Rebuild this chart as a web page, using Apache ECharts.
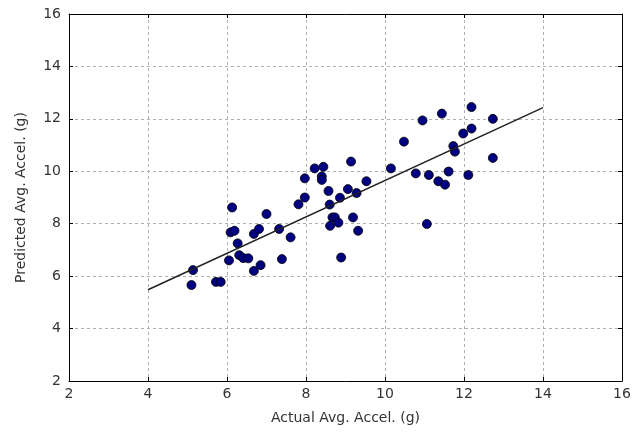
<!DOCTYPE html>
<html>
<head>
<meta charset="utf-8">
<script src="https://cdn.jsdelivr.net/npm/echarts@6/dist/echarts.min.js"></script>
<style>html,body{margin:0;padding:0;background:#fff}#c{width:641px;height:432px}</style>
</head>
<body>
<div id="c"></div>
<script>
const actual = [5.10,5.14,5.72,5.84,6.05,6.13,6.09,6.19,6.27,6.31,6.41,6.54,6.68,6.85,6.68,6.81,7.00,7.32,7.39,7.61,7.81,7.97,7.97,8.22,8.44,8.40,8.40,8.57,8.60,8.86,9.06,9.28,9.14,9.53,8.67,8.73,8.61,8.82,9.19,9.32,8.89,10.15,10.48,10.78,10.95,11.06,11.11,11.35,11.52,11.44,11.61,11.73,11.77,11.98,12.19,12.19,12.11,12.73,12.73];
const predicted = [5.66,6.23,5.78,5.78,6.60,8.62,7.67,7.73,7.25,6.80,6.69,6.68,6.20,6.42,7.61,7.80,8.37,7.80,6.65,7.48,8.74,9.00,9.73,10.11,10.17,9.80,9.67,9.25,8.73,8.99,9.32,9.17,10.37,9.62,8.24,8.24,7.92,8.04,8.24,7.73,6.71,10.11,11.13,9.92,11.94,7.99,9.86,9.62,9.49,12.20,9.99,10.96,10.75,11.44,11.63,12.45,9.86,12.00,10.51];
const fitX = [4, 14];
const fitY = [5.48, 12.43];
const xTitle = 'Actual Avg. Accel. (g)';
const yTitle = 'Predicted Avg. Accel. (g)';

const font = 'DejaVu Sans';
const chart = echarts.init(document.getElementById('c'), null, {renderer: 'canvas'});
const baseAxis = {
  type: 'value', min: 2, max: 16, interval: 2,
  axisLine: {show: true, onZero: false, lineStyle: {color: '#000', width: 1}},
  axisTick: {show: true, inside: true, length: 4, lineStyle: {color: '#000'}},
  minorTick: {show: false}
};
const grid = {show: true, lineStyle: {color: '#b0b0b0', type: [3, 3], width: 1}};
chart.setOption({
  animation: false,
  grid: {left: 69, right: 19, top: 14, bottom: 51, containLabel: false},
  xAxis: [
    Object.assign({}, baseAxis, {
      position: 'bottom',
      name: xTitle, nameLocation: 'middle', nameGap: 30,
      nameTextStyle: {fontFamily: font, fontSize: 14, color: '#333'},
      axisLabel: {fontFamily: font, fontSize: 14, color: '#333', margin: 6},
      splitLine: grid
    }),
    Object.assign({}, baseAxis, {position: 'top', axisLabel: {show: false}, splitLine: {show: false}})
  ],
  yAxis: [
    Object.assign({}, baseAxis, {
      position: 'left',
      name: yTitle, nameLocation: 'middle', nameGap: 41,
      nameTextStyle: {fontFamily: font, fontSize: 14, color: '#333'},
      axisLabel: {fontFamily: font, fontSize: 14, color: '#333', margin: 8},
      splitLine: grid
    }),
    Object.assign({}, baseAxis, {position: 'right', axisLabel: {show: false}, splitLine: {show: false}})
  ],
  series: [
    {
      type: 'scatter', xAxisIndex: 0, yAxisIndex: 0,
      symbol: 'circle', symbolSize: 9,
      itemStyle: {color: '#000080', borderColor: '#000', borderWidth: 0.8, opacity: 1},
      data: actual.map((v, i) => [v, predicted[i]]),
      z: 3
    },
    {
      type: 'line', xAxisIndex: 0, yAxisIndex: 0,
      symbol: 'none', lineStyle: {color: '#222', width: 1.5},
      data: fitX.map((v, i) => [v, fitY[i]]),
      z: 4
    }
  ]
});
</script>
</body>
</html>
